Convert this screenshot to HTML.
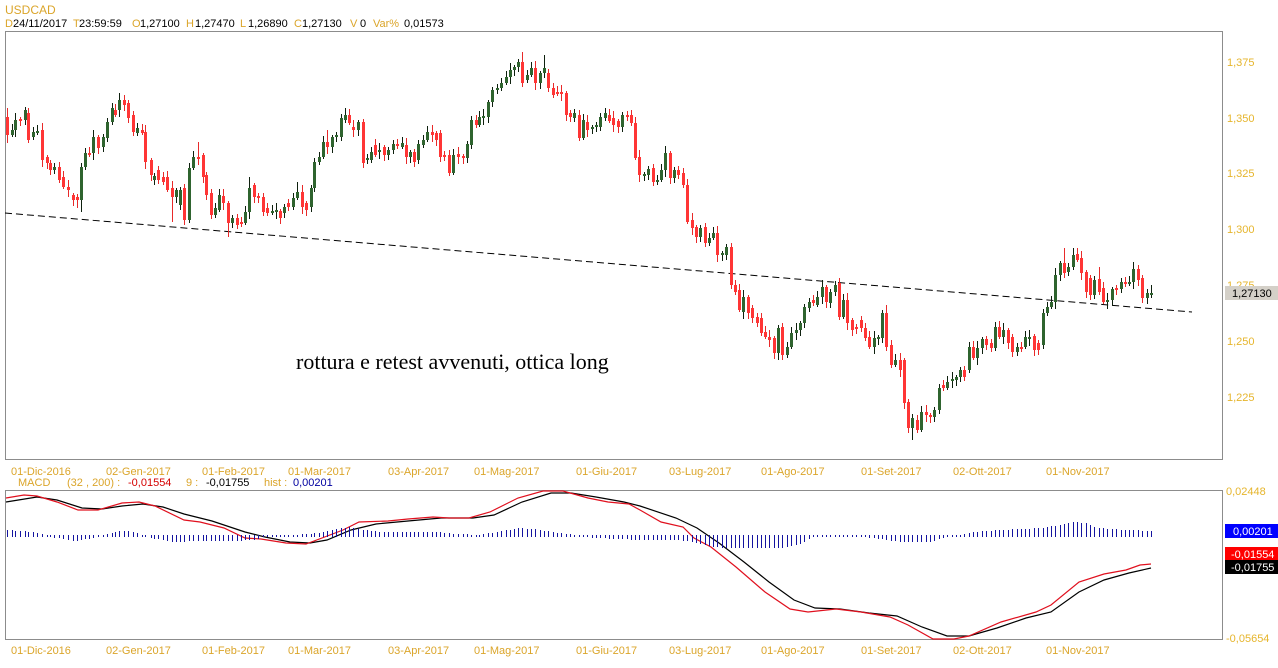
<!DOCTYPE html>
<html><head><meta charset="utf-8">
<style>
html,body{margin:0;padding:0;background:#fff;}
body{width:1278px;height:668px;overflow:hidden;position:relative;}
svg{position:absolute;left:0;top:0;}
.g{fill:#dba52a;}
.k{fill:#000;}
.ax{fill:#e6b52c;}
</style></head><body>
<svg id="base" width="1278" height="668" xmlns="http://www.w3.org/2000/svg" font-family="Liberation Sans, Arial, sans-serif" font-size="11">
<rect x="0" y="0" width="1278" height="668" fill="#fff"/>
<!-- header -->
<text x="5" y="14" font-size="12" class="g">USDCAD</text>
<text x="5" y="27" class="g">D</text><text x="13" y="27" class="k">24/11/2017</text>
<text x="73" y="27" class="g">T</text><text x="79" y="27" class="k">23:59:59</text>
<text x="132" y="27" class="g">O</text><text x="140" y="27" class="k">1,27100</text>
<text x="186" y="27" class="g">H</text><text x="195" y="27" class="k">1,27470</text>
<text x="240" y="27" class="g">L</text><text x="248" y="27" class="k">1,26890</text>
<text x="294" y="27" class="g">C</text><text x="302" y="27" class="k">1,27130</text>
<text x="350" y="27" class="g">V</text><text x="360" y="27" class="k">0</text>
<text x="373" y="27" class="g">Var%</text><text x="404" y="27" class="k">0,01573</text>

<!-- panels -->
<rect x="5.5" y="31.5" width="1217" height="428" fill="none" stroke="#8c8c8c" stroke-width="1"/>
<rect x="5.5" y="490.5" width="1217" height="149" fill="none" stroke="#8c8c8c" stroke-width="1"/>

<!-- price axis -->
<text x="1227" y="66" class="ax">1,375</text>
<text x="1227" y="122" class="ax">1,350</text>
<text x="1227" y="177" class="ax">1,325</text>
<text x="1227" y="233" class="ax">1,300</text>
<text x="1227" y="289" class="ax">1,275</text>
<text x="1227" y="345" class="ax">1,250</text>
<text x="1227" y="401" class="ax">1,225</text>
<rect x="1225" y="286" width="53" height="14" fill="#d4d0c8"/>
<text x="1232" y="297" class="k">1,27130</text>

<!-- date labels top -->
<g class="g">
<text x="11" y="475">01-Dic-2016</text>
<text x="106" y="475">02-Gen-2017</text>
<text x="202" y="475">01-Feb-2017</text>
<text x="288" y="475">01-Mar-2017</text>
<text x="388" y="475">03-Apr-2017</text>
<text x="474" y="475">01-Mag-2017</text>
<text x="576" y="475">01-Giu-2017</text>
<text x="669" y="475">03-Lug-2017</text>
<text x="761" y="475">01-Ago-2017</text>
<text x="861" y="475">01-Set-2017</text>
<text x="953" y="475">02-Ott-2017</text>
<text x="1046" y="475">01-Nov-2017</text>
</g>
<!-- date labels bottom -->
<g class="g">
<text x="11" y="654">01-Dic-2016</text>
<text x="106" y="654">02-Gen-2017</text>
<text x="202" y="654">01-Feb-2017</text>
<text x="288" y="654">01-Mar-2017</text>
<text x="388" y="654">03-Apr-2017</text>
<text x="474" y="654">01-Mag-2017</text>
<text x="576" y="654">01-Giu-2017</text>
<text x="669" y="654">03-Lug-2017</text>
<text x="761" y="654">01-Ago-2017</text>
<text x="861" y="654">01-Set-2017</text>
<text x="953" y="654">02-Ott-2017</text>
<text x="1046" y="654">01-Nov-2017</text>
</g>

<!-- MACD header -->
<text x="18" y="486" class="g">MACD</text>
<text x="67" y="486" class="g">(32 , 200) :</text>
<text x="128" y="486" fill="#d40000">-0,01554</text>
<text x="186" y="486" class="g">9 :</text>
<text x="206" y="486" class="k">-0,01755</text>
<text x="264" y="486" class="g">hist :</text>
<text x="293" y="486" fill="#0000a0">0,00201</text>

<!-- MACD axis -->
<text x="1226" y="495" class="ax">0,02448</text>
<text x="1226" y="642" class="ax">-0,05654</text>
<rect x="1225" y="524" width="53" height="14" fill="#0000ff"/>
<text x="1233" y="535" fill="#fff">0,00201</text>
<rect x="1225" y="547" width="53" height="13" fill="#ff0000"/>
<text x="1231" y="558" fill="#fff">-0,01554</text>
<rect x="1225" y="560" width="53" height="14" fill="#000"/>
<text x="1231" y="571" fill="#fff">-0,01755</text>

<!-- trend line -->
<line x1="5" y1="213" x2="1192" y2="312" stroke="#000" stroke-width="1" stroke-dasharray="7,4"/>

<!-- annotation -->
<text x="296" y="369" font-family="Liberation Serif, Times New Roman, serif" font-size="22" fill="#000">rottura e retest avvenuti, ottica long</text>

<!-- MACD lines -->
<polyline fill="none" stroke="#000" stroke-width="1.2" points="6,502 37,497 57,500 82,508 102,509 122,506 143,504 163,507 184,514 212,521 245,532 265,537 290,542 310,543 327,540 351,530 376,524 408,521 441,518 473,518 494,515 522,502 551,493 571,493 596,497 624,502 640,506 676,518 697,528 719,543 744,562 769,582 794,600 815,608 840,609 869,613 897,616 922,627 947,636 969,636 997,628 1026,618 1051,612 1079,592 1104,580 1129,573 1151,568"/>
<polyline fill="none" stroke="#e0101e" stroke-width="1.2" points="6,498 24,495 37,496 57,502 78,510 98,510 122,503 139,502 155,506 184,520 200,522 224,528 245,538 261,539 286,543 306,544 322,538 343,530 359,522 388,521 408,519 433,517 449,518 469,518 490,512 518,498 543,491 563,491 588,498 608,502 629,504 640,510 661,522 683,527 694,538 711,547 736,567 765,592 790,609 808,612 836,609 861,612 890,617 908,625 933,639 954,639 969,636 1001,622 1036,612 1051,605 1079,582 1104,574 1126,570 1140,565 1151,564"/>
<g id="hist"></g>
<g id="candles"></g>
</svg>
<script>
(function(){
var NS="http://www.w3.org/2000/svg";
var C=[
[7,117,135,'r',108,143],[12,130,135,'g'],[15,120,130,'g'],[20,119,120,'r'],[25,110,120,'g'],[28,113,140,'r',108,143],[33,132,137,'g'],[37,131,133,'g'],[42,130,160,'r'],[47,157,163,'r'],[50,163,170,'r'],[54,167,170,'g'],[59,167,180,'r'],[63,177,187,'r'],[68,187,190,'r'],[73,195,200,'r'],[77,197,200,'r',null,208],[81,167,200,'g',null,212],[85,153,167,'g'],[89,153,155,'r'],[93,137,153,'g'],[98,137,148,'r'],[103,137,147,'g'],[107,122,138,'g'],[112,108,122,'g'],[115,110,115,'r'],[119,100,110,'g'],[124,100,105,'r',95],[128,103,118,'r'],[133,115,132,'r'],[137,128,133,'g'],[142,130,133,'r'],[145,132,162,'r'],[151,160,175,'r'],[154,176,180,'g'],[158,170,180,'r'],[163,177,182,'r'],[167,177,190,'r'],[172,188,197,'r',null,222],[176,190,197,'g'],[180,190,205,'g'],[184,188,220,'r',null,225],[189,168,220,'g'],[193,157,168,'g'],[198,157,158,'r',142],
[203,155,177,'r'],[206,175,195,'r'],[211,193,215,'r'],[215,208,215,'g'],[219,195,210,'g'],[223,196,203,'r'],[228,203,223,'r',null,237],[232,218,223,'g'],[237,218,225,'r'],[241,222,224,'r'],[245,212,223,'g'],[249,188,212,'g',177],[254,185,197,'r'],[258,196,198,'r'],[263,197,212,'r'],[267,208,213,'r'],[272,211,213,'g'],[276,210,212,'g'],[280,211,218,'r'],[284,207,213,'g'],[288,203,207,'r'],[293,198,207,'g'],[297,192,198,'g',182],[302,192,207,'r'],[306,203,210,'r'],[311,188,207,'g'],[314,162,188,'g'],[319,157,162,'g'],[323,142,157,'g'],[327,142,147,'r',130],[332,137,147,'g'],[336,135,137,'g'],[341,118,137,'g'],[345,115,120,'g',108],[349,115,123,'r'],[353,127,130,'r'],[358,122,130,'g'],[363,122,163,'r'],[367,158,160,'g'],[371,152,160,'g'],[375,145,155,'r'],[379,150,152,'g'],[384,147,155,'r'],[388,150,155,'g'],[393,144,150,'g'],[397,144,146,'r'],[402,143,147,'g'],[406,145,157,'r'],[410,152,157,'g'],[414,152,162,'r'],[418,144,160,'g'],[423,140,145,'g'],[427,132,140,'g'],[432,132,135,'r'],[436,133,140,'r'],[440,133,157,'r'],[444,155,157,'r'],[449,155,173,'r'],[453,155,173,'g'],[458,154,157,'r'],[463,156,158,'r'],[467,144,158,'g'],[471,120,145,'g'],[476,120,125,'r'],[479,117,125,'g'],[483,116,118,'g'],[488,102,117,'g'],[492,90,102,'g'],[497,88,90,'g'],[501,83,88,'g'],[506,77,83,'g'],[510,70,77,'g'],[514,67,70,'g'],[518,62,67,'g'],[522,62,83,'r',52],[527,75,80,'g'],[531,68,75,'g'],[535,68,83,'r'],[540,73,83,'g'],[544,68,73,'g',55],[548,73,88,'r'],[553,88,95,'r'],[557,92,94,'r'],[561,92,94,'r'],[566,93,115,'r'],[570,113,117,'r'],[574,113,118,'g'],[579,115,138,'r'],[583,120,138,'g'],[587,122,130,'r'],[592,127,128,'g'],[596,125,127,'g'],[600,117,127,'g'],[605,113,118,'g'],[609,115,121,'r'],
[613,118,125,'r'],[618,121,127,'r'],[622,115,127,'g'],[627,115,117,'r'],[631,115,123,'r'],[635,123,158,'r'],[639,157,175,'r'],[644,174,175,'g'],[648,169,175,'g'],[653,168,182,'r'],[657,180,182,'g'],[661,170,180,'g'],[665,153,170,'g'],[670,153,178,'r'],[674,170,178,'g'],[678,170,175,'r'],[683,173,185,'r'],[687,185,222,'r'],[692,220,228,'r'],[696,227,237,'r'],[700,228,237,'g'],[705,227,243,'r'],[709,238,243,'g'],[713,233,238,'g'],[717,233,255,'r'],[722,253,255,'g'],[726,247,255,'g'],[731,247,285,'r'],[735,285,292,'r'],[739,290,310,'r'],[743,297,312,'g'],[748,297,313,'r'],[752,308,318,'r'],[757,317,323,'r'],[761,318,333,'r'],[765,332,337,'r'],[769,337,340,'r'],[774,338,353,'r'],[778,328,353,'g',null,360],[782,327,355,'r',null,360],[787,347,355,'g'],[791,333,347,'g'],[796,330,333,'g'],[800,323,330,'g'],[804,307,323,'g'],[809,302,308,'g'],[813,300,303,'r'],[817,297,305,'g'],[822,287,297,'g'],[826,287,302,'r'],[830,292,303,'g'],[835,285,292,'g'],[839,283,317,'r',278],[843,300,317,'g'],[847,300,323,'r'],[852,320,330,'r'],[856,327,329,'r'],[861,320,328,'r'],[865,328,338,'r'],[869,337,347,'r'],[874,338,347,'g'],[878,337,339,'g'],[882,313,338,'g'],[886,313,347,'r',305],[891,345,365,'r'],[895,360,365,'g'],[900,360,370,'r'],
[904,360,403,'r'],[908,402,428,'r'],[912,418,428,'g',null,440],[917,420,430,'r'],[921,412,430,'g'],[926,412,415,'r'],[930,415,417,'r'],[934,410,417,'g'],[939,388,410,'g'],[943,385,388,'r'],[947,382,388,'g'],[952,379,381,'g'],[956,377,380,'g'],[960,370,377,'g'],[964,370,377,'r'],[969,347,370,'g'],[973,347,358,'r'],[977,348,358,'g'],[982,339,348,'g'],[986,339,345,'r'],[991,343,348,'r'],[995,327,348,'g'],[999,327,337,'r'],[1003,330,337,'g'],[1008,330,343,'r'],[1012,337,352,'r'],[1017,347,352,'g'],[1021,347,349,'r'],[1025,337,347,'g'],[1029,337,339,'g'],[1034,336,350,'r'],[1038,343,350,'r'],[1043,313,345,'g'],[1047,307,313,'g'],[1051,302,307,'g'],[1055,275,302,'g'],[1060,263,275,'g'],[1064,263,273,'r',248],[1068,267,272,'g'],[1073,255,267,'g',248],[1077,254,260,'r'],[1081,258,273,'r'],[1086,272,292,'r'],[1090,278,295,'r'],[1094,280,295,'g'],[1099,279,292,'r',267],[1103,288,302,'r'],[1107,300,302,'g'],[1112,289,300,'g'],[1116,288,290,'r'],[1121,282,289,'g'],[1125,282,284,'r'],[1129,282,284,'g'],[1133,269,282,'g'],[1138,269,280,'r',265],[1142,278,298,'r'],[1147,293,298,'g',null,304],[1151,293,295,'g',285]
];
var HK=[[6,5],[20,4],[40,2],[50,-2],[75,-6],[100,-2],[110,2],[122,4],[135,3],[150,-3],[175,-7],[200,-6],[230,-6],[255,-5],[265,-1],[290,0],[320,2],[335,6],[350,8],[365,5],[380,3],[440,3],[455,1],[480,0],[495,3],[520,7],[540,5],[560,2],[575,0],[590,-3],[620,-4],[640,-5],[680,-5],[700,-9],[720,-13],[780,-13],[800,-9],[810,-3],[820,-1],[840,-1],[860,-2],[880,-4],[900,-7],[930,-7],[945,-2],[960,0],[975,3],[1000,5],[1040,7],[1060,10],[1075,13],[1085,12],[1095,8],[1110,6],[1151,4]];
function hv(x){
  if(x<=HK[0][0])return HK[0][1];
  for(var i=1;i<HK.length;i++){if(x<=HK[i][0]){var a=HK[i-1],b=HK[i];return a[1]+(b[1]-a[1])*(x-a[0])/(b[0]-a[0]);}}
  return HK[HK.length-1][1];
}
function rect(p,x,y,w,h,f){var r=document.createElementNS(NS,'rect');r.setAttribute('x',x);r.setAttribute('y',y);r.setAttribute('width',w);r.setAttribute('height',h);r.setAttribute('fill',f);p.appendChild(r);}
var hg=document.getElementById('hist'),cg=document.getElementById('candles');
for(var i=0;i<C.length;i++){
  var d=C[i],x=d[0],t=d[1],b=d[2],red=d[3]=='r';
  var wt=(d[4]!=null)?d[4]:t-(2+(i*7+3)%6);
  var wb=(d[5]!=null)?d[5]:b+(2+(i*5+1)%6);
  rect(cg,x,wt,1,wb-wt,red?'#e82a2a':'#0e200e');
  var h=Math.max(b-t,2);
  rect(cg,x-1,t,3,h,red?'#ff3535':'#2f642f');
  // histogram
  var v=Math.round(hv(x));
  if(v>=0){rect(hg,x,535-v,1,Math.max(v,0)+2,'#1414a0');}
  else{rect(hg,x,535,1,Math.max(-v,2),'#1414a0');}
}
})();
</script>
</body></html>
